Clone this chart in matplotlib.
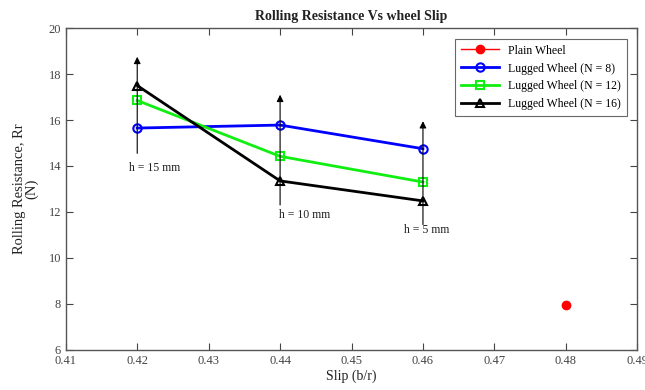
import matplotlib
matplotlib.use("Agg")
import matplotlib.pyplot as plt

plt.rcParams['font.family'] = ['Liberation Serif', 'DejaVu Serif']

slip = [0.42, 0.44, 0.46]
n8 = [15.65, 15.78, 14.75]
n12 = [16.85, 14.42, 13.3]
n16 = [17.5, 13.35, 12.48]
plain_x = [0.48]
plain_y = [7.96]

arrow_x = [0.42, 0.44, 0.46]
arrow_base = [14.55, 12.3, 11.45]
arrow_tip = [18.75, 17.1, 15.95]
h_labels = ['h = 15 mm', 'h = 10 mm', 'h = 5 mm']
h_label_x = [0.4225, 0.4435, 0.4605]
h_label_y = [13.9, 11.85, 11.2]

fig = plt.figure(figsize=(6.45, 3.9), dpi=100)
ax = fig.add_axes([0.102, 0.103, 0.886, 0.825])

for x, b, t in zip(arrow_x, arrow_base, arrow_tip):
    ax.annotate('', xy=(x, t), xytext=(x, b),
                arrowprops=dict(arrowstyle='-|>', color='black', lw=0.8,
                                mutation_scale=10, shrinkA=0, shrinkB=0))
for x, y, s in zip(h_label_x, h_label_y, h_labels):
    ax.text(x, y, s, ha='center', va='center', fontsize=8.5, color='#222222')

ax.plot(plain_x, plain_y, color='red', marker='o', lw=1, markersize=6,
        label='Plain Wheel')
ax.plot(slip, n8, color='blue', marker='o', lw=2, markersize=6,
        markerfacecolor='none', markeredgewidth=1.5, label='Lugged Wheel (N = 8)')
ax.plot(slip, n12, color='#11ee11', marker='s', lw=2, markersize=6,
        markerfacecolor='none', markeredgewidth=1.5, label='Lugged Wheel (N = 12)')
ax.plot(slip, n16, color='black', marker='^', lw=2, markersize=6,
        markerfacecolor='none', markeredgewidth=1.5, label='Lugged Wheel (N = 16)')

ax.set_xlim(0.41, 0.49)
ax.set_ylim(6, 20)
ax.set_xticks([0.41, 0.42, 0.43, 0.44, 0.45, 0.46, 0.47, 0.48, 0.49])
ax.set_xticklabels(['0.41', '0.42', '0.43', '0.44', '0.45', '0.46', '0.47', '0.48', '0.49'])
ax.set_yticks([6, 8, 10, 12, 14, 16, 18, 20])
ax.tick_params(direction='in', top=True, right=True, labelsize=9,
               colors='#444444', length=5)
for sp in ax.spines.values():
    sp.set_color('#555555')
    sp.set_linewidth(1)

ax.set_title('Rolling Resistance Vs wheel Slip', fontsize=10, fontweight='bold',
             color='#222222', pad=6)
ax.set_xlabel('Slip (b/r)', fontsize=10, color='#222222', labelpad=2)
ax.set_ylabel('Rolling Resistance, Rr\n(N)', fontsize=10.5, color='#222222',
              linespacing=0.95, labelpad=7)

leg = ax.legend(loc='upper right', fontsize=8.5, frameon=True, fancybox=False,
                edgecolor='#444444', handlelength=3.2, borderaxespad=0.9,
                labelspacing=0.5, borderpad=0.5)
leg.get_frame().set_linewidth(0.8)

fig.savefig('out.png', dpi=100)
